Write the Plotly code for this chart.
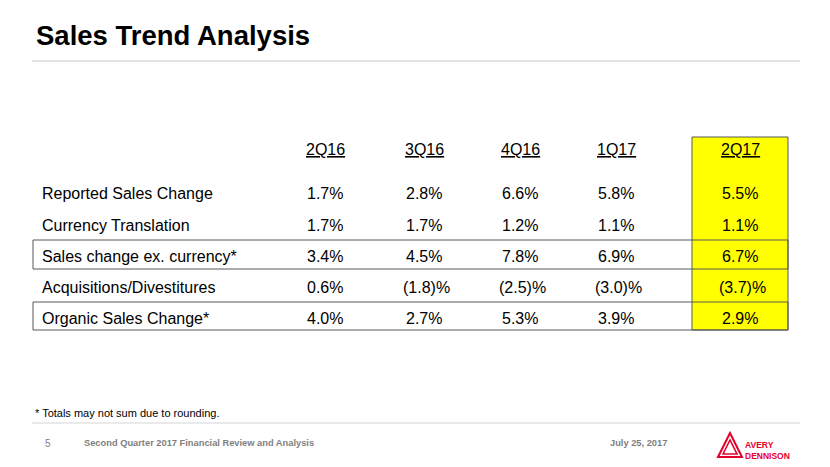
import plotly.graph_objects as go

# ---- data ----
quarters = ["2Q16", "3Q16", "4Q16", "1Q17", "2Q17"]
row_labels = ["Reported Sales Change", "Currency Translation", "Sales change ex. currency*",
              "Acquisitions/Divestitures", "Organic Sales Change*"]
q2_16 = ["1.7%", "1.7%", "3.4%", "0.6%", "4.0%"]
q3_16 = ["2.8%", "1.7%", "4.5%", "(1.8)%", "2.7%"]
q4_16 = ["6.6%", "1.2%", "7.8%", "(2.5)%", "5.3%"]
q1_17 = ["5.8%", "1.1%", "6.9%", "(3.0)%", "3.9%"]
q2_17 = ["5.5%", "1.1%", "6.7%", "(3.7)%", "2.9%"]
columns = [q2_16, q3_16, q4_16, q1_17, q2_17]

title = "Sales Trend Analysis"
footnote = "* Totals may not sum due to rounding."
footer_page = "5"
footer_text = "Second Quarter 2017 Financial Review and Analysis"
footer_date = "July 25, 2017"

# ---- layout ----
W, H = 830, 467
col_x = [325, 424, 520, 616, 740]
header_y = 149
row_y = [193, 225, 256, 287, 318]
label_x = 40
FONT = "Liberation Sans, Arial, sans-serif"
NARROW = "Liberation Sans Narrow, Arial Narrow, Liberation Sans, Arial, sans-serif"
LINE = "#595959"
RED = "#e4002b"

fig = go.Figure()

shapes = []
# title rule
shapes.append(dict(type="line", x0=32, x1=800, y0=61, y1=61, line=dict(color="#e3e3e3", width=2)))
# highlighted column
shapes.append(dict(type="rect", x0=692, x1=788, y0=137, y1=330, fillcolor="#ffff00",
                   line=dict(color=LINE, width=1), layer="below"))
# boxed rows
for (y0, y1) in [(240, 269), (302, 330)]:
    shapes.append(dict(type="rect", x0=33, x1=788, y0=y0, y1=y1,
                       line=dict(color=LINE, width=1), fillcolor="rgba(0,0,0,0)"))
# footer rule
shapes.append(dict(type="line", x0=32, x1=800, y0=423, y1=423, line=dict(color="#e3e3e3", width=1.5)))
# logo (nested triangles)
shapes.append(dict(type="path", path="M 718 457 L 730 433 L 742 457 Z",
                   line=dict(color=RED, width=2), fillcolor="rgba(0,0,0,0)"))
shapes.append(dict(type="path", path="M 723 454 L 730 440 L 737 454 Z",
                   line=dict(color=RED, width=1.6), fillcolor="rgba(0,0,0,0)"))

ann = []
ann.append(dict(x=34, y=35, text="<b>" + title + "</b>", xanchor="left", yanchor="middle",
                showarrow=False, font=dict(family=FONT, size=27.5, color="#000000")))
for q, x in zip(quarters, col_x):
    ann.append(dict(x=x, y=header_y, text="<u>" + q + "</u>", xanchor="center", yanchor="middle",
                    showarrow=False, font=dict(family=FONT, size=16, color="#000000")))
for lab, y in zip(row_labels, row_y):
    ann.append(dict(x=label_x, y=y, text=lab, xanchor="left", yanchor="middle",
                    showarrow=False, font=dict(family=FONT, size=16, color="#000000")))
for col, x in zip(columns, col_x):
    for v, y in zip(col, row_y):
        xx = x + 2 if v.startswith("(") else x
        ann.append(dict(x=xx, y=y, text=v, xanchor="center", yanchor="middle",
                        showarrow=False, font=dict(family=FONT, size=16, color="#000000")))
ann.append(dict(x=33, y=413, text=footnote, xanchor="left", yanchor="middle", showarrow=False,
                font=dict(family=NARROW, size=11, color="#000000")))
ann.append(dict(x=48, y=443, text=footer_page, xanchor="center", yanchor="middle", showarrow=False,
                font=dict(family=NARROW, size=10, color="#808080")))
ann.append(dict(x=82, y=443, text="<b>" + footer_text + "</b>", xanchor="left", yanchor="middle",
                showarrow=False, font=dict(family=NARROW, size=9.3, color="#7f7f7f")))
ann.append(dict(x=608, y=443, text="<b>" + footer_date + "</b>", xanchor="left", yanchor="middle",
                showarrow=False, font=dict(family=NARROW, size=9.3, color="#7f7f7f")))
ann.append(dict(x=743, y=450, text="<b>AVERY<br>DENNISON</b>", xanchor="left", yanchor="middle",
                showarrow=False, align="left",
                font=dict(family=NARROW, size=8.5, color=RED)))

fig.update_layout(
    width=W, height=H, margin=dict(l=0, r=0, t=0, b=0),
    paper_bgcolor="#ffffff", plot_bgcolor="#ffffff",
    xaxis=dict(range=[0, W], visible=False, fixedrange=True),
    yaxis=dict(range=[H, 0], visible=False, fixedrange=True),
    shapes=shapes, annotations=ann, showlegend=False,
)
fig.write_html("out.html", config={"displayModeBar": False},
               post_script="document.body.style.margin='0';document.body.style.overflow='hidden';")
